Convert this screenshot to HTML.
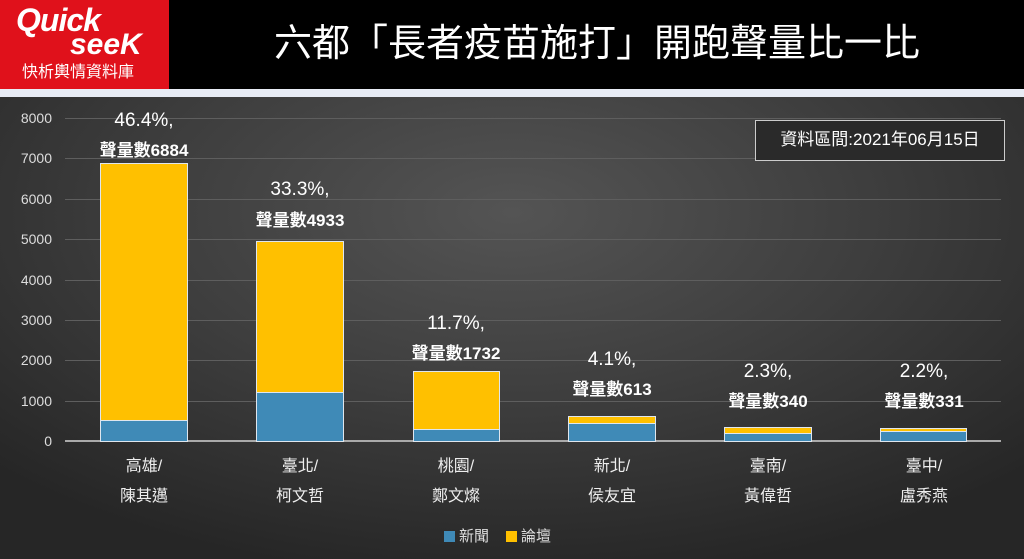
<!DOCTYPE html>
<html><head><meta charset="utf-8"><style>
body{margin:0;width:1024px;height:559px;overflow:hidden;position:relative;font-family:"Liberation Sans","Noto Sans CJK TC",sans-serif;background:#333}
.a{position:absolute}
.bg{left:0;top:97px;width:1024px;height:462px;background:radial-gradient(ellipse 70% 80% at 50% 25%,#545454 0%,#3e3e3e 50%,#262626 100%)}
.g{left:65px;width:936px;height:1px;background:#5e5e5e}
.yl{left:0;width:52px;text-align:right;color:#ddd;font-size:14px;line-height:14px}
.bar{border:1.5px solid #dfe6ee;box-sizing:border-box;background:#ffc000;overflow:hidden}
.bl{position:absolute;left:0;right:0;bottom:0;background:#3f8ab7;border-top:1.5px solid #dfe6ee}
.pc{color:#fff;font-size:19px;text-align:center;width:160px;line-height:20px}
.ct{color:#fff;font-size:17px;font-weight:bold;text-align:center;width:160px;line-height:18px}
.cat{color:#eee;font-size:16px;text-align:center;width:120px;line-height:30px}
</style></head><body>
<div class="a" style="left:0;top:0;width:1024px;height:89px;background:#000"></div>
<div class="a" style="left:0;top:0;width:169px;height:89px;background:#e0111b"></div>
<div class="a" style="left:16px;top:4px;color:#fff;font-size:32px;font-weight:bold;font-style:italic;line-height:32px;letter-spacing:-1px">Quick</div>
<div class="a" style="left:70px;top:30px;color:#fff;font-size:30px;font-weight:bold;font-style:italic;line-height:30px">seeK</div>
<div class="a" style="left:22px;top:64px;color:#fff;font-size:16px;line-height:18px">快析輿情資料庫</div>
<div class="a" style="left:0;top:89px;width:1024px;height:8px;background:#e8ecf5"></div>
<div class="a" style="left:170px;top:22px;width:854px;text-align:center;color:#fff;font-size:38px;line-height:44px">六都「長者疫苗施打」開跑聲量比一比</div>
<div class="a bg"></div>
<div class="a g" style="top:118px"></div><div class="a g" style="top:158px"></div><div class="a g" style="top:199px"></div><div class="a g" style="top:239px"></div><div class="a g" style="top:280px"></div><div class="a g" style="top:320px"></div><div class="a g" style="top:360px"></div><div class="a g" style="top:401px"></div>
<div class="a" style="left:65px;top:440px;width:936px;height:2px;background:#aaa"></div>
<div class="a yl" style="top:111px">8000</div><div class="a yl" style="top:151px">7000</div><div class="a yl" style="top:192px">6000</div><div class="a yl" style="top:232px">5000</div><div class="a yl" style="top:273px">4000</div><div class="a yl" style="top:313px">3000</div><div class="a yl" style="top:353px">2000</div><div class="a yl" style="top:394px">1000</div><div class="a yl" style="top:434px">0</div>
<div class="a" style="left:755px;top:120px;width:250px;height:41px;box-sizing:border-box;border:1.5px solid #ccc;background:#2a2a2a;color:#fff;font-size:17px;line-height:38px;text-align:center">資料區間:2021年06月15日</div>
<div class="a bar" style="left:100px;top:163px;width:88px;height:279px"><div class="bl" style="height:20px"></div></div>
<div class="a bar" style="left:256px;top:241px;width:88px;height:201px"><div class="bl" style="height:48px"></div></div>
<div class="a bar" style="left:413px;top:371px;width:87px;height:71px"><div class="bl" style="height:11px"></div></div>
<div class="a bar" style="left:568px;top:416px;width:88px;height:26px"><div class="bl" style="height:17px"></div></div>
<div class="a bar" style="left:724px;top:427px;width:88px;height:15px"><div class="bl" style="height:7px"></div></div>
<div class="a bar" style="left:880px;top:428px;width:87px;height:14px"><div class="bl" style="height:9px"></div></div>
<div class="a pc" style="left:64px;top:111px">46.4%,</div><div class="a ct" style="left:64px;top:142px">聲量數6884</div>
<div class="a pc" style="left:220px;top:180px">33.3%,</div><div class="a ct" style="left:220px;top:212px">聲量數4933</div>
<div class="a pc" style="left:376px;top:314px">11.7%,</div><div class="a ct" style="left:376px;top:345px">聲量數1732</div>
<div class="a pc" style="left:532px;top:350px">4.1%,</div><div class="a ct" style="left:532px;top:381px">聲量數613</div>
<div class="a pc" style="left:688px;top:362px">2.3%,</div><div class="a ct" style="left:688px;top:393px">聲量數340</div>
<div class="a pc" style="left:844px;top:362px">2.2%,</div><div class="a ct" style="left:844px;top:393px">聲量數331</div>
<div class="a cat" style="left:84px;top:452px">高雄/<br>陳其邁</div>
<div class="a cat" style="left:240px;top:452px">臺北/<br>柯文哲</div>
<div class="a cat" style="left:396px;top:452px">桃園/<br>鄭文燦</div>
<div class="a cat" style="left:552px;top:452px">新北/<br>侯友宜</div>
<div class="a cat" style="left:708px;top:452px">臺南/<br>黃偉哲</div>
<div class="a cat" style="left:864px;top:452px">臺中/<br>盧秀燕</div>
<div class="a" style="left:444px;top:531px;width:11px;height:11px;background:#3f8ab7"></div>
<div class="a" style="left:459px;top:528px;color:#ddd;font-size:15px;line-height:18px">新聞</div>
<div class="a" style="left:506px;top:531px;width:11px;height:11px;background:#ffc000"></div>
<div class="a" style="left:521px;top:528px;color:#ddd;font-size:15px;line-height:18px">論壇</div>
</body></html>
